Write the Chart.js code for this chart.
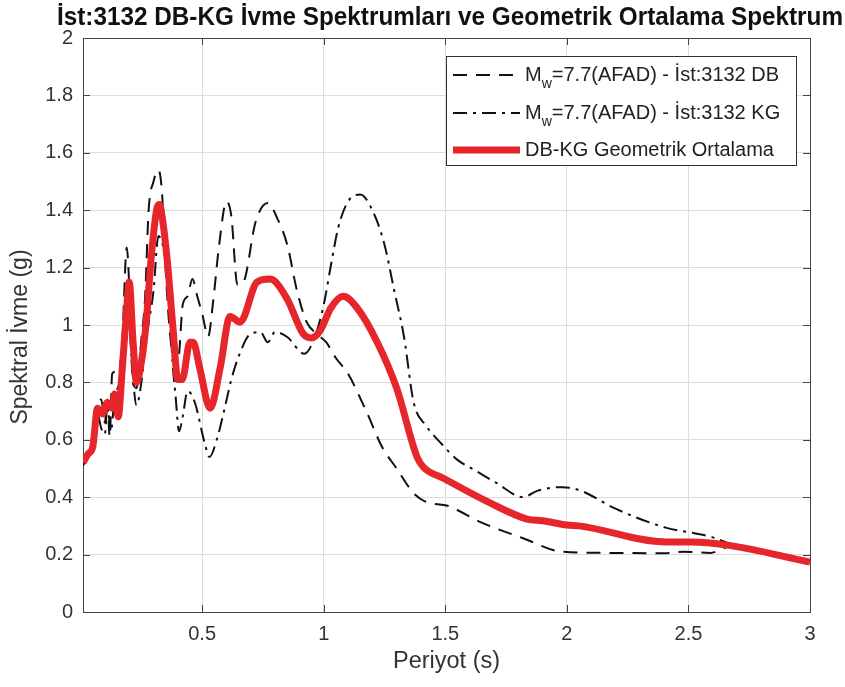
<!DOCTYPE html>
<html>
<head>
<meta charset="utf-8">
<script src="https://cdn.jsdelivr.net/npm/chart.js@4.4.1/dist/chart.umd.min.js"></script>
<style>
  html, body { margin: 0; padding: 0; background: #fff; }
</style>
</head>
<body>
<canvas id="spectraChart" width="845" height="687"></canvas>
<script>
// periods (s) and spectral accelerations (g)
const dbPeriod = [0.01, 0.03, 0.05, 0.07, 0.085, 0.10, 0.11, 0.12, 0.13, 0.15, 0.17, 0.19, 0.20, 0.215, 0.23, 0.25, 0.265, 0.28, 0.30, 0.32, 0.335, 0.35, 0.37, 0.39, 0.405, 0.42, 0.44, 0.46, 0.48, 0.50, 0.525, 0.545, 0.57, 0.60, 0.62, 0.645, 0.67, 0.72, 0.77, 0.81, 0.85, 0.89, 0.93, 0.97, 1.01, 1.05, 1.10, 1.18, 1.24, 1.30, 1.37, 1.42, 1.51, 1.64, 1.82, 1.98, 2.14, 2.40, 2.48, 2.59, 2.67, 2.75, 2.88, 3.0];
const dbSa = [0.51, 0.55, 0.58, 0.72, 0.74, 0.66, 0.74, 0.61, 0.83, 0.84, 0.92, 1.27, 1.14, 0.80, 0.78, 0.95, 1.09, 1.40, 1.50, 1.54, 1.46, 1.19, 0.95, 0.86, 0.90, 1.07, 1.10, 1.16, 1.10, 1.04, 0.96, 1.08, 1.28, 1.43, 1.38, 1.14, 1.15, 1.36, 1.425, 1.37, 1.28, 1.12, 1.01, 0.97, 0.94, 0.885, 0.83, 0.69, 0.575, 0.50, 0.414, 0.384, 0.37, 0.315, 0.257, 0.21, 0.206, 0.205, 0.21, 0.206, 0.227, 0.22, 0.20, 0.175];

const kgPeriod = [0.01, 0.03, 0.05, 0.07, 0.085, 0.10, 0.11, 0.125, 0.14, 0.16, 0.18, 0.19, 0.20, 0.215, 0.23, 0.25, 0.27, 0.30, 0.32, 0.34, 0.36, 0.38, 0.39, 0.405, 0.42, 0.44, 0.47, 0.51, 0.53, 0.56, 0.59, 0.62, 0.65, 0.70, 0.74, 0.77, 0.80, 0.85, 0.92, 0.96, 1.00, 1.03, 1.06, 1.10, 1.15, 1.20, 1.25, 1.29, 1.33, 1.37, 1.42, 1.48, 1.55, 1.62, 1.71, 1.82, 1.88, 1.98, 2.05, 2.20, 2.41, 2.52, 2.60, 2.69, 2.80, 2.90, 3.0];
const kgSa = [0.51, 0.55, 0.57, 0.69, 0.64, 0.62, 0.72, 0.63, 0.75, 0.80, 0.95, 1.02, 1.00, 0.82, 0.72, 0.80, 0.95, 1.12, 1.31, 1.27, 1.14, 0.85, 0.76, 0.63, 0.68, 0.77, 0.73, 0.59, 0.54, 0.60, 0.70, 0.81, 0.89, 0.97, 0.975, 0.94, 0.976, 0.958, 0.90, 0.95, 1.07, 1.21, 1.34, 1.43, 1.455, 1.40, 1.28, 1.12, 0.96, 0.73, 0.65, 0.59, 0.53, 0.495, 0.45, 0.40, 0.423, 0.435, 0.425, 0.36, 0.293, 0.275, 0.26, 0.232, 0.21, 0.19, 0.175];

const gmPeriod = [0.01, 0.03, 0.05, 0.07, 0.09, 0.11, 0.13, 0.14, 0.155, 0.17, 0.19, 0.20, 0.216, 0.23, 0.25, 0.27, 0.29, 0.315, 0.325, 0.335, 0.356, 0.38, 0.40, 0.418, 0.45, 0.463, 0.49, 0.533, 0.574, 0.615, 0.656, 0.726, 0.78, 0.85, 0.915, 0.95, 0.985, 1.03, 1.08, 1.137, 1.22, 1.30, 1.384, 1.41, 1.49, 1.684, 1.836, 1.90, 2.0, 2.05, 2.41, 2.51, 2.66, 3.0];
const gmSa = [0.52, 0.55, 0.575, 0.71, 0.69, 0.73, 0.71, 0.76, 0.68, 0.83, 1.06, 1.15, 0.94, 0.80, 0.87, 1.01, 1.23, 1.41, 1.42, 1.38, 1.23, 0.99, 0.81, 0.81, 0.94, 0.94, 0.85, 0.71, 0.85, 1.03, 1.01, 1.15, 1.16, 1.09, 0.97, 0.955, 0.98, 1.06, 1.10, 1.06, 0.94, 0.78, 0.54, 0.505, 0.467, 0.38, 0.324, 0.318, 0.303, 0.30, 0.244, 0.244, 0.233, 0.174];

const xTicks = [0.5, 1, 1.5, 2, 2.5, 3];
const yTicks = [0, 0.2, 0.4, 0.6, 0.8, 1, 1.2, 1.4, 1.6, 1.8, 2];

const legendMain = ['M', 'M', 'DB-KG Geometrik Ortalama'];
const legendSub = ['w', 'w', ''];
const legendRest = ['=7.7(AFAD) - İst:3132 DB', '=7.7(AFAD) - İst:3132 KG', ''];
const chartTitle = 'İst:3132 DB-KG İvme Spektrumları ve Geometrik Ortalama Spektrum';
const yTitle = 'Spektral İvme (g)';

const toPoints = (xs, ys) => xs.map((x, i) => ({ x: x, y: ys[i] }));
const FONT = '"Liberation Sans", Arial, Helvetica, sans-serif';
const AXIS_COLOR = '#444444';

// box on top/right and inward tick marks like the original figure
const boxPlugin = {
    id: 'boxPlugin',
    beforeDatasetsDraw(chart) {
        const { ctx, chartArea: a, scales } = chart;
        ctx.save();
        ctx.strokeStyle = AXIS_COLOR;
        ctx.lineWidth = 1;
        ctx.beginPath();
        ctx.moveTo(a.left, a.top + 0.5);
        ctx.lineTo(a.right + 0.5, a.top + 0.5);
        ctx.lineTo(a.right + 0.5, a.bottom);
        const len = 7;
        xTicks.forEach(v => {
            const px = Math.round(scales.x.getPixelForValue(v)) + 0.5;
            ctx.moveTo(px, a.bottom); ctx.lineTo(px, a.bottom - len);
            ctx.moveTo(px, a.top); ctx.lineTo(px, a.top + len);
        });
        yTicks.forEach(v => {
            const py = Math.round(scales.y.getPixelForValue(v)) + 0.5;
            ctx.moveTo(a.left, py); ctx.lineTo(a.left + len, py);
            ctx.moveTo(a.right, py); ctx.lineTo(a.right - len, py);
        });
        ctx.stroke();
        ctx.restore();
    },
    afterDraw(chart) {
        const ctx = chart.ctx;
        // title, narrow bold face running almost to the edge
        ctx.save();
        ctx.fillStyle = '#111111';
        ctx.font = 'bold 25px ' + FONT;
        ctx.textAlign = 'center';
        ctx.textBaseline = 'middle';
        ctx.fillText(chartTitle, 450, 18, 786);
        ctx.restore();
        // y axis title, sits a bit below the axis centre in the original
        ctx.save();
        ctx.translate(21, 337);
        ctx.rotate(-Math.PI / 2);
        ctx.fillStyle = '#333333';
        ctx.font = '23px ' + FONT;
        ctx.textAlign = 'center';
        ctx.textBaseline = 'middle';
        ctx.fillText(yTitle, 0, 0);
        ctx.restore();
    }
};

// legend with subscript text
const legendPlugin = {
    id: 'legendPlugin',
    afterDraw(chart) {
        const ctx = chart.ctx;
        const x0 = 446, y0 = 56, w = 350, h = 109;
        const rows = [75, 113, 150];
        ctx.save();
        ctx.fillStyle = '#ffffff';
        ctx.fillRect(x0, y0, w, h);
        ctx.strokeStyle = '#333333';
        ctx.lineWidth = 1;
        ctx.strokeRect(x0 + 0.5, y0 + 0.5, w, h);
        chart.data.datasets.forEach((ds, i) => {
            const y = rows[i];
            ctx.save();
            ctx.strokeStyle = ds.borderColor;
            ctx.lineWidth = ds.borderWidth;
            ctx.setLineDash(ds.borderDash || []);
            ctx.beginPath();
            ctx.moveTo(453, y);
            ctx.lineTo(520, y);
            ctx.stroke();
            ctx.restore();

            let tx = 525;
            ctx.fillStyle = '#222222';
            ctx.textBaseline = 'middle';
            ctx.font = '20px ' + FONT;
            ctx.fillText(legendMain[i], tx, y);
            tx += ctx.measureText(legendMain[i]).width;
            if (legendSub[i]) {
                ctx.font = '14px ' + FONT;
                ctx.fillText(legendSub[i], tx, y + 9);
                tx += ctx.measureText(legendSub[i]).width;
                ctx.font = '20px ' + FONT;
                ctx.fillText(legendRest[i], tx, y);
            }
        });
        ctx.restore();
    }
};

const ctx = document.getElementById('spectraChart').getContext('2d');
const spectraChart = new Chart(ctx, {
    type: 'line',
    data: {
        datasets: [{
            label: 'DB',
            data: toPoints(dbPeriod, dbSa),
            borderColor: '#111111',
            borderWidth: 2,
            borderDash: [14, 9],
            order: 2
        }, {
            label: 'KG',
            data: toPoints(kgPeriod, kgSa),
            borderColor: '#111111',
            borderWidth: 2,
            borderDash: [14, 6, 3, 6],
            order: 1
        }, {
            label: 'DB-KG Geometrik Ortalama',
            data: toPoints(gmPeriod, gmSa),
            borderColor: '#e6262b',
            borderWidth: 7,
            order: 0
        }]
    },
    options: {
        responsive: false,
        animation: false,
        devicePixelRatio: 1,
        layout: { padding: { left: 0, right: 35, top: 38, bottom: 0 } },
        elements: {
            point: { radius: 0 },
            line: { fill: false, cubicInterpolationMode: 'monotone', borderCapStyle: 'butt', borderJoinStyle: 'round' }
        },
        plugins: {
            legend: { display: false },
            tooltip: { enabled: false },
            title: { display: false }
        },
        scales: {
            x: {
                type: 'linear',
                min: 0.01,
                max: 3,
                afterBuildTicks: s => { s.ticks = xTicks.map(v => ({ value: v })); },
                afterFit: s => { s.height = 75; },
                ticks: {
                    callback: v => String(v),
                    color: '#333333',
                    font: { family: FONT, size: 20 },
                    padding: 10,
                    maxRotation: 0,
                    autoSkip: false
                },
                grid: { color: '#dcdcdc', drawTicks: false },
                border: { color: AXIS_COLOR, width: 1 },
                title: {
                    display: true,
                    text: 'Periyot (s)',
                    color: '#333333',
                    font: { family: FONT, size: 23.5 },
                    padding: { top: 4, bottom: 11 }
                }
            },
            y: {
                min: 0,
                max: 2,
                afterBuildTicks: s => { s.ticks = yTicks.map(v => ({ value: v })); },
                afterFit: s => { s.width = 83; },
                ticks: {
                    callback: v => String(v),
                    color: '#333333',
                    font: { family: FONT, size: 20 },
                    padding: 10,
                    autoSkip: false
                },
                grid: { color: '#dcdcdc', drawTicks: false },
                border: { color: AXIS_COLOR, width: 1 }
            }
        }
    },
    plugins: [boxPlugin, legendPlugin]
});
</script>
</body>
</html>
